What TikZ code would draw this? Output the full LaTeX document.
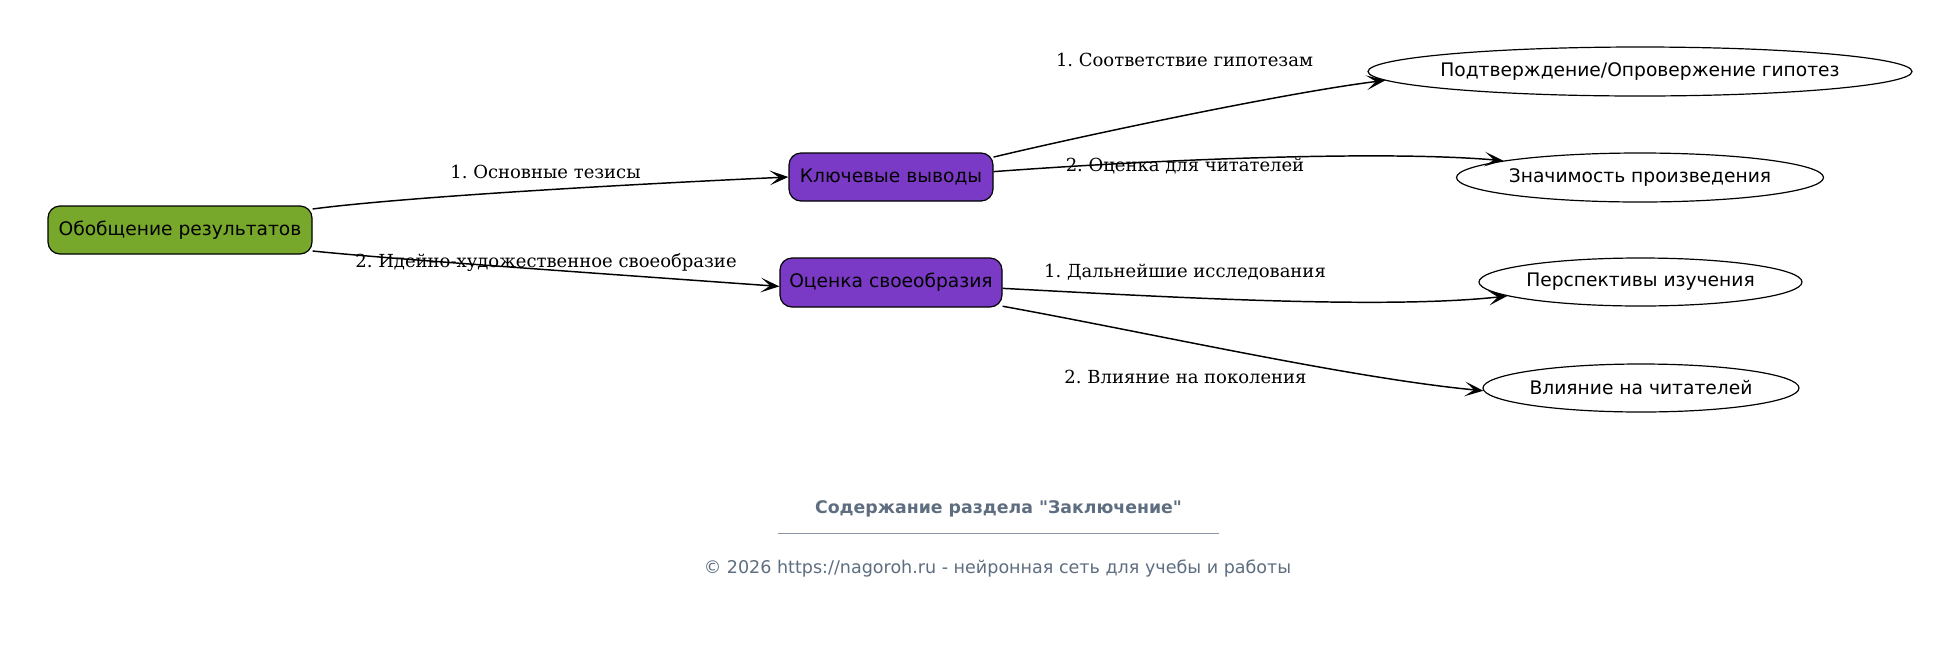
\documentclass[tikz,border=0pt]{standalone}
\usepackage{fontspec}
\setmainfont{DejaVu Sans}[Ligatures=TeXOff]
\newfontfamily\labfont{DejaVu Serif}[Ligatures=TeXOff]
\usetikzlibrary{arrows.meta,shapes.geometric}
\definecolor{greenfill}{HTML}{77A82B}
\definecolor{purplefill}{HTML}{7B3AC5}
\definecolor{footgray}{HTML}{5E6E80}
\definecolor{footline}{HTML}{8A96A3}
\newcommand{\zw}[1]{\makebox[0pt]{#1}}
\tikzset{
  rbox/.style={draw=black, line width=0.9pt, rounded corners=9pt, inner sep=0pt,
    font=\fontsize{14}{16}\selectfont, text=black},
  ellnode/.style={ellipse, draw=black, line width=0.9pt, inner sep=0pt, fill=white,
    font=\fontsize{14}{16}\selectfont, text=black},
  edge/.style={draw=black, line width=1.1pt, -{Stealth[length=14pt,width=11pt,inset=7pt]}},
  elabel/.style={anchor=base, inner sep=0pt, font=\labfont\fontsize{13.5}{15}\selectfont, text=black},
}
\begin{document}
\frenchspacing
\begin{tikzpicture}[x=0.75pt, y=-0.75pt]
\fill[white] (0,0) rectangle (1960,651);
\useasboundingbox (0,0) rectangle (1960,651);

% nodes
\node[rbox, fill=greenfill, minimum width=198pt, minimum height=36pt] (A) at (180,230) {Обобщение результатов};
\node[rbox, fill=purplefill, minimum width=153pt, minimum height=36pt] (K) at (891,177) {Ключевые выводы};
\node[rbox, fill=purplefill, minimum width=166.5pt, minimum height=36.75pt] (O) at (891,282.5) {Оценка своеобразия};
\node[ellnode, minimum width=408pt, minimum height=36.75pt] (P) at (1640,71.5) {\zw{Подтверждение/Опровержение гипотез}};
\node[ellnode, minimum width=275.25pt, minimum height=36.75pt] (Z) at (1640,177.5) {\zw{Значимость произведения}};
\node[ellnode, minimum width=242.25pt, minimum height=36pt] (Pe) at (1640.5,282) {\zw{Перспективы изучения}};
\node[ellnode, minimum width=237pt, minimum height=36pt] (V) at (1641,388) {\zw{Влияние на читателей}};

% edges
\draw[edge] (A.9) .. controls (380,200) and (550,188) .. (K.west);
\draw[edge] (A.-9.5) .. controls (380,258) and (550,270) .. (O.182);
\draw[edge] (K.11.6) .. controls (1090,134) and (1290,92) .. (P.182.6);
\draw[edge] (K.3.4) .. controls (1150,160) and (1380,150) .. (Z.173.7);
\draw[edge] (O.-3.4) .. controls (1150,296) and (1380,310) .. (Pe.186.2);
\draw[edge] (O.-12) .. controls (1150,333) and (1350,378) .. (V.181);

% edge labels
\node[elabel] (l1) at (545.5,178) {1. Основные тезисы};
\node[elabel] (l2) at (546,267) {2. Идейно-художественное своеобразие};
\node[elabel] (l3) at (1184.5,66.5) {1. Соответствие гипотезам};
\node[elabel] (l4) at (1185,171.5) {2. Оценка для читателей};
\node[elabel] (l5) at (1185,277) {1. Дальнейшие исследования};
\node[elabel] (l6) at (1185.5,383) {2. Влияние на поколения};

% footer
\node[anchor=base, inner sep=0pt, text=footgray, font=\bfseries\fontsize{13}{15}\selectfont] (title) at (998.5,513) {Содержание раздела "Заключение"};
\coordinate (fl1) at (778,533);
\coordinate (fl2) at (1219,533);
\draw[footline, line width=0.7pt] (fl1) -- (fl2);
\node[anchor=base, inner sep=0pt, text=footgray, font=\fontsize{13.15}{15}\selectfont] (copy) at (997.5,573) {© 2026 https://nagoroh.ru - нейронная сеть для учебы и работы};
\end{tikzpicture}
\end{document}
